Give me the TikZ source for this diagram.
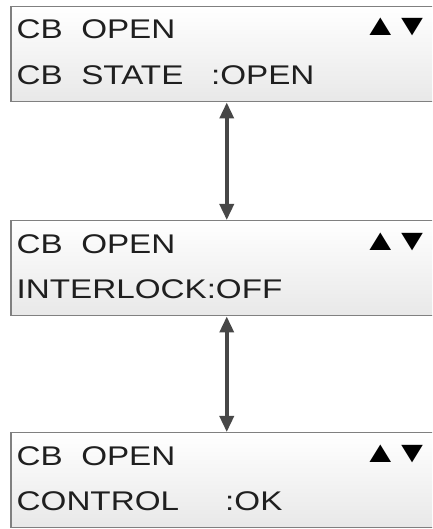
\documentclass[tikz,border=0pt]{standalone}
\usepackage{fontspec}
\setmainfont[FakeStretch=1.23]{Liberation Sans}
\usetikzlibrary{arrows.meta}

\begin{document}
\begin{tikzpicture}[x=1pt,y=1pt,
  screen/.style={draw=black!50, line width=1.5pt, top color=white, bottom color=black!9,
    minimum width=432pt, minimum height=95pt, inner sep=0pt, anchor=north west},
  line/.style={anchor=base west, inner sep=0pt, text=black!88,
    font=\fontsize{27}{27}\selectfont},
  keys/.style={anchor=base west, inner sep=0pt, text=black,
    font=\fontsize{30}{30}\selectfont},
  updown/.style={draw=black!72, line width=3.5pt,
    {Triangle[length=16pt,width=14pt]}-{Triangle[length=16pt,width=14pt]}}]
\useasboundingbox (0,0) rectangle (432,529);
\clip (0,0) rectangle (432,529);
% display screens
\node[screen] (s1) at (10,523) {};
\node[screen] (s2) at (10,309) {};
\node[screen] (s3) at (10,97) {};
% first screen
\node[line] (s1top) at ([shift={(6.5,-33)}]s1.north west) {CB~~OPEN};
\node[line] (s1bot) at ([shift={(6.5,-79)}]s1.north west) {CB~~STATE~~~:OPEN};
\node[keys] (s1keys) at ([shift={(352,-30)}]s1.north west) {▲\hspace{-5pt}▼};
% second screen
\node[line] (s2top) at ([shift={(6.5,-34)}]s2.north west) {CB~~OPEN};
\node[line] (s2bot) at ([shift={(6.5,-79)}]s2.north west) {INTERLOCK:OFF};
\node[keys] (s2keys) at ([shift={(352,-31)}]s2.north west) {▲\hspace{-5pt}▼};
% third screen
\node[line] (s3top) at ([shift={(6.5,-34)}]s3.north west) {CB~~OPEN};
\node[line] (s3bot) at ([shift={(6.5,-79)}]s3.north west) {CONTROL~~~~~:OK};
\node[keys] (s3keys) at ([shift={(352,-31)}]s3.north west) {▲\hspace{-5pt}▼};
% scrolling between screens
\draw[updown] (s1.south) -- (s2.north);
\draw[updown] (s2.south) -- (s3.north);
\end{tikzpicture}
\end{document}
